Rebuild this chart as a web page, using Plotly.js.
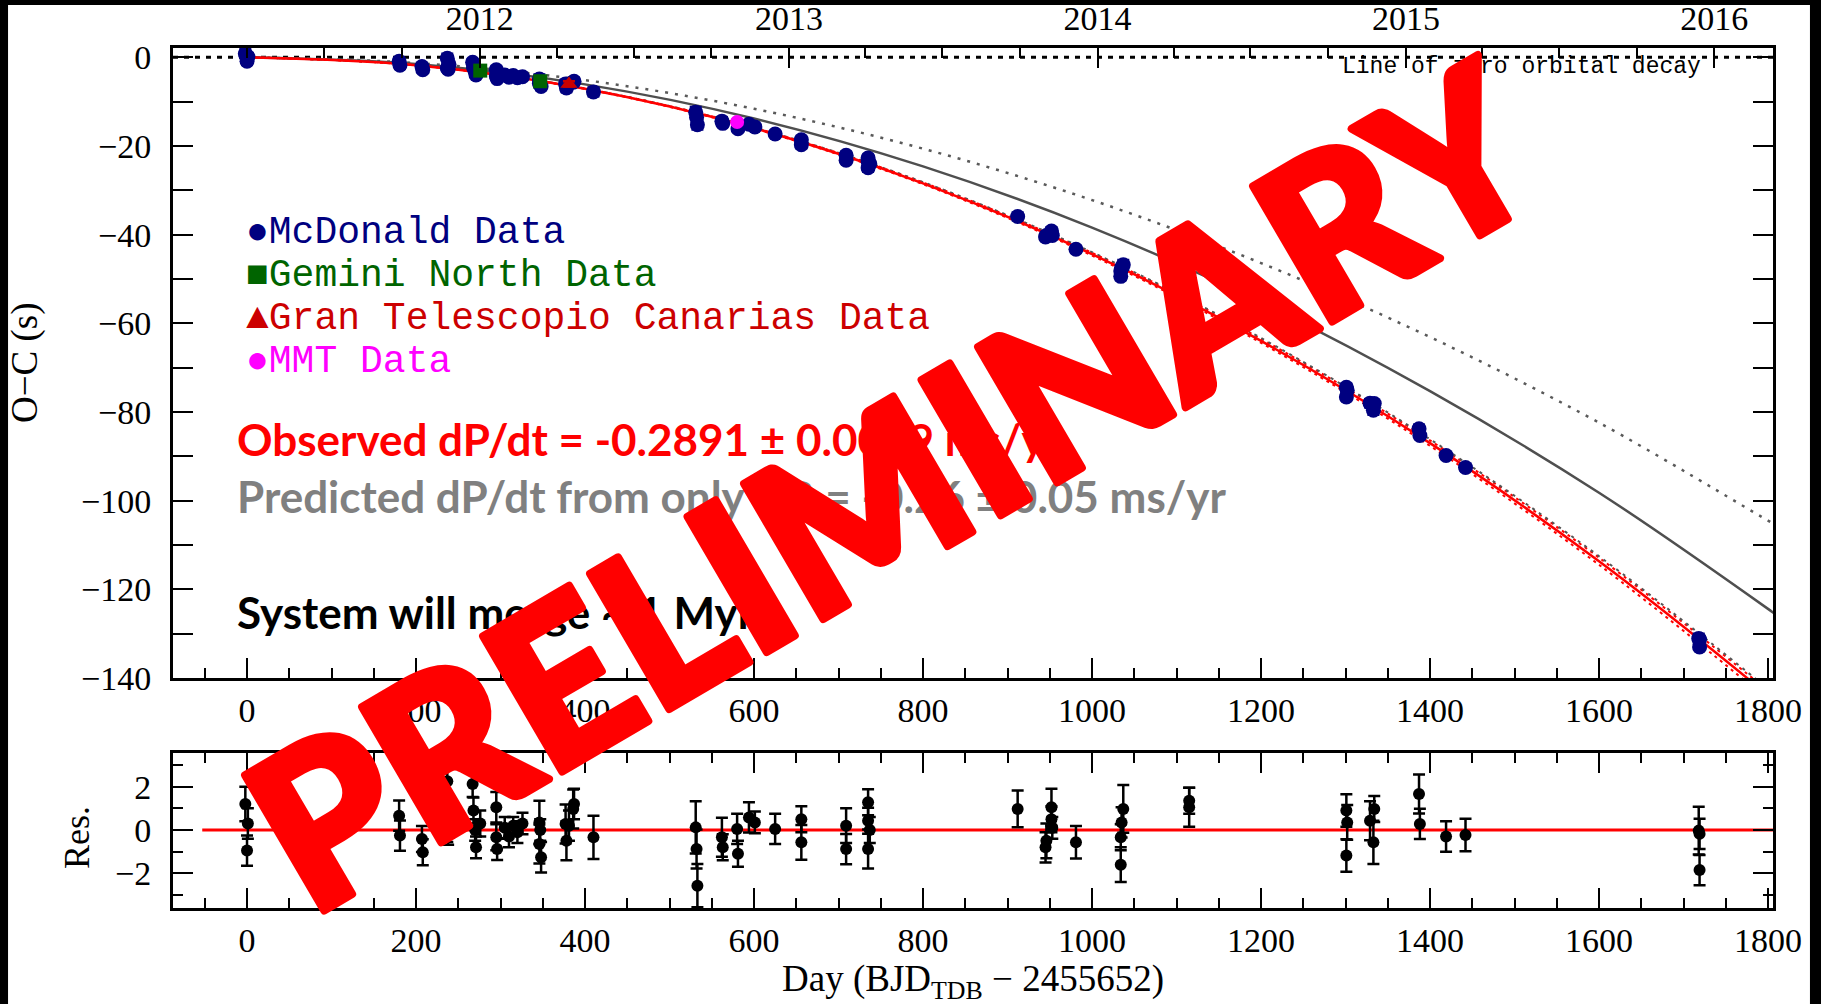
<!DOCTYPE html>
<html>
<head>
<meta charset="utf-8">
<script src="https://cdn.plot.ly/plotly-3.0.1.min.js"></script>
<style>
  html, body { margin: 0; padding: 0; background: #ffffff; }
  #chart { width: 1821px; height: 1004px; }
  /* heavy rounded stamp lettering */
  #chart g.annotation[data-index="11"] text.annotation-text {
    stroke: #ff0000; stroke-width: 8px; stroke-linejoin: round; paint-order: stroke;
  }
</style>
</head>
<body>
<div id="chart"></div>
<script>
// O−C timing of the eclipses, days since BJD_TDB 2455652
const mcdDay = [-2, 1, 0, 180, 181, 207, 208, 237, 239, 237, 238, 267, 268, 270, 271,
  295, 295, 296, 305, 310, 315, 320, 326, 346, 346, 348, 377, 378, 386, 387, 410,
  531, 532, 533, 562, 563, 581, 594, 601, 625, 656, 656, 709, 709, 735, 735, 735, 737,
  912, 945, 946, 952, 952, 953, 981, 1034, 1034, 1035, 1037, 1115, 1115,
  1301, 1302, 1301, 1329, 1334, 1333, 1387, 1388, 1419, 1442, 1718, 1719, 1719];
const mcdOC = [0.8, 0.1, -0.9, -0.9, -1.8, -2.1, -2.8, -0.2, -1.6, -2.4, -2.7, -1.1, -2.3, -3.2, -4.0,
  -2.8, -4.2, -4.8, -4.0, -4.5, -4.1, -4.6, -4.4, -4.9, -5.9, -6.6, -6.0, -6.9, -5.6, -5.4, -7.8,
  -12.4, -13.5, -15.2, -14.4, -14.9, -16.1, -15.1, -15.7, -17.3, -18.6, -19.7, -22.1, -23.2, -22.7, -23.5, -24.9, -24.0,
  -35.9, -40.5, -40.2, -39.2, -39.8, -40.2, -43.3, -49.4, -48.2, -47.5, -46.8, -54.2, -54.5,
  -74.4, -75.1, -76.6, -78.0, -78.1, -79.6, -83.8, -85.3, -89.8, -92.5, -131.1, -131.3, -133.0];
const mcdErr = [1.0, 0.8, 0.8, 0.8, 0.8, 0.7, 0.7, 1.0, 0.8, 0.6, 0.6, 0.6, 0.6, 0.6, 0.6,
  0.7, 0.6, 0.6, 0.5, 0.5, 0.5, 0.5, 0.5, 1.0, 0.9, 0.8, 0.9, 0.9, 0.9, 0.8, 1.0,
  1.2, 1.0, 1.1, 0.9, 0.7, 0.7, 0.7, 0.6, 0.7, 0.7, 0.8, 0.8, 0.7, 0.7, 0.6, 0.9, 0.6,
  0.85, 0.7, 0.8, 0.85, 0.6, 0.5, 0.75, 0.8, 0.6, 0.7, 1.1, 0.6, 0.9,
  0.75, 0.8, 0.75, 0.9, 0.6, 1.0, 0.9, 0.7, 0.7, 0.75, 1.1, 0.7, 0.7];

const gemDay = [276, 347];
const gemOC = [-3.0, -5.4];
const gemErr = [0.8, 0.7];

const gtcDay = [381];
const gtcOC = [-6.0];
const gtcErr = [0.6];

const mmtDay = [580];
const mmtOC = [-14.6];
const mmtErr = [0.6];

// residuals from the best-fit decay curve (s)
const resDay = [-2, 1, 0, 180, 181, 207, 208, 237, 239, 237, 238, 267, 268, 270, 271, 276,
  295, 295, 296, 305, 310, 315, 320, 326, 346, 346, 348, 347, 377, 378, 386, 387, 381, 410,
  531, 532, 533, 562, 563, 580, 581, 594, 601, 625, 656, 656, 709, 709, 735, 735, 735, 737,
  912, 945, 946, 952, 952, 953, 981, 1034, 1034, 1035, 1037, 1115, 1115,
  1301, 1302, 1301, 1329, 1334, 1333, 1387, 1388, 1419, 1442, 1718, 1719, 1719];
const resVal = [1.2, 0.3, -0.95, 0.66, -0.26, -0.42, -1.03, 2.25, 0.82, 0.05, -0.18, 2.12, 0.9, 0.0, -0.8, 0.3,
  1.05, -0.34, -0.88, 0.1, -0.3, 0.2, -0.1, 0.3, 0.35, -0.65, -1.26, 0.0, 0.28, -0.5, 0.97, 1.2, 0.2, -0.34,
  0.12, -0.88, -2.57, -0.34, -0.8, 0.05, -1.1, 0.58, 0.35, 0.05, 0.5, -0.57, 0.2, -0.88, 1.28, 0.43, -0.88, 0.0,
  0.97, -0.8, -0.5, 1.05, 0.5, 0.1, -0.57, -1.6, -0.34, 0.35, 0.97, 1.35, 1.05,
  0.9, 0.35, -1.18, 0.43, 0.97, -0.57, 1.66, 0.28, -0.3, -0.23, -0.03, -0.18, -1.85];
const resErr = [0.8, 0.7, 0.7, 0.7, 0.7, 0.6, 0.6, 1.0, 0.7, 0.6, 0.5, 0.6, 0.6, 0.5, 0.5, 0.6,
  0.7, 0.6, 0.5, 0.5, 0.5, 0.4, 0.5, 0.5, 1.0, 0.9, 0.7, 0.5, 0.9, 0.9, 0.9, 0.7, 0.7, 1.0,
  1.2, 0.9, 1.0, 0.9, 0.6, 0.7, 0.6, 0.7, 0.5, 0.7, 0.6, 0.8, 0.8, 0.7, 0.6, 0.6, 0.9, 0.6,
  0.85, 0.7, 0.8, 0.85, 0.6, 0.5, 0.75, 0.8, 0.6, 0.7, 1.1, 0.6, 0.9,
  0.75, 0.8, 0.75, 0.9, 0.6, 1.0, 0.9, 0.7, 0.7, 0.75, 1.1, 0.7, 0.7];

// model curves sampled along the day axis
const curveDay  = [0, 200, 400, 600, 800, 1000, 1200, 1400, 1600, 1800, 1820];
const fitOC     = [0, -1.78, -7.10, -15.98, -28.42, -44.40, -63.94, -87.02, -113.66, -143.86, -147.1];
const fitUpper  = [0, -1.77, -7.05, -15.87, -28.22, -44.09, -63.49, -86.41, -112.86, -142.85, -146.0];
const fitLower  = [0, -1.79, -7.15, -16.09, -28.62, -44.71, -64.39, -87.63, -114.46, -144.87, -148.1];
const fitAlt    = [0, -1.76, -7.03, -15.82, -28.14, -43.96, -63.30, -86.15, -112.52, -142.42, -145.6];
const grOC      = [0, -1.5, -6.1, -13.8, -24.6, -38.4, -55.3, -75.3, -98.2, -124.4, -127.2];
const grAltOC   = [0, -1.29, -5.15, -11.6, -20.6, -32.2, -46.4, -63.1, -82.4, -104.5, -106.7];

// calendar axis along the top
const yearDays = [275.5, 641.5, 1006.5, 1371.5, 1736.5];
const yearLabels = ['2012', '2013', '2014', '2015', '2016'];
const quarterDays = [0.5, 91.5, 183.5, 366.5, 457.5, 549.5, 731.5, 822.5, 914.5,
  1096.5, 1187.5, 1279.5, 1461.5, 1552.5, 1644.5];

const dayRange = [-87.6, 1805.9];
const ocRange = [-140, 2.1];
const resRange = [-3.6, 3.55];

const serif = 'Liberation Serif, DejaVu Serif, serif';
const mono = 'Liberation Mono, DejaVu Sans Mono, monospace';
const sans = 'Lato, Open Sans, sans-serif';

function pts(x, y, err, color, symbol, size, name, xa, ya) {
  return {
    x: x, y: y, type: 'scatter', mode: 'markers', name: name,
    xaxis: xa, yaxis: ya,
    marker: { color: color, symbol: symbol, size: size, line: { width: 0 } },
    error_y: { type: 'data', array: err, visible: true, color: color, thickness: 2.5, width: 6 },
    hoverinfo: 'skip'
  };
}
function curve(y, color, width, dash) {
  return {
    x: curveDay, y: y, type: 'scatter', mode: 'lines', xaxis: 'x', yaxis: 'y',
    line: { color: color, width: width, dash: dash, shape: 'spline', smoothing: 1 },
    hoverinfo: 'skip'
  };
}

const traces = [
  curve(grAltOC, '#5a5a5a', 2.5, '3px,7px'),
  curve(grOC, '#4f4f4f', 2.5, 'solid'),
  curve(fitUpper, '#ff0000', 2, '3px,4px'),
  curve(fitLower, '#ff0000', 2, '3px,4px'),
  curve(fitAlt, '#555555', 2, '3px,5px'),
  curve(fitOC, '#ff0000', 2.5, 'solid'),
  pts(mcdDay, mcdOC, mcdErr, '#000080', 'circle', 15, 'McDonald', 'x', 'y'),
  pts(gemDay, gemOC, gemErr, '#006400', 'square', 14, 'Gemini North', 'x', 'y'),
  pts(gtcDay, gtcOC, gtcErr, '#cc0000', 'triangle-up', 15, 'GTC', 'x', 'y'),
  pts(mmtDay, mmtOC, mmtErr, '#ff00ff', 'circle', 14, 'MMT', 'x', 'y'),
  pts(resDay, resVal, resErr, '#000000', 'circle', 12, 'Residuals', 'x2', 'y2'),
  { x: [-87.6], y: [0], xaxis: 'x3', yaxis: 'y', type: 'scatter', mode: 'markers',
    marker: { opacity: 0 }, hoverinfo: 'skip' }
];

const tickFont = { family: serif, size: 34, color: '#000000' };
const axisCommon = {
  showline: true, linecolor: '#000000', linewidth: 3,
  showgrid: false, zeroline: false, ticks: 'inside', tickcolor: '#000000',
  tickwidth: 2, ticklen: 20, tickfont: tickFont, ticklabelstandoff: 12, fixedrange: true
};

const layout = {
  width: 1821, height: 1004,
  margin: { l: 173, r: 48, t: 48, b: 96, pad: 0 },
  paper_bgcolor: '#ffffff', plot_bgcolor: '#ffffff',
  showlegend: false,
  xaxis: Object.assign({}, axisCommon, {
    domain: [0, 1], anchor: 'y', range: dayRange, mirror: true,
    tick0: 0, dtick: 200, ticklabelstandoff: 0,
    minor: { dtick: 50, tick0: 0, ticklen: 10, tickwidth: 2, ticks: 'inside', tickcolor: '#000000' }
  }),
  yaxis: Object.assign({}, axisCommon, {
    domain: [0.2674, 1], anchor: 'x', range: ocRange, mirror: 'allticks',
    tick0: 0, dtick: 20,
    minor: { dtick: 10, tick0: 0, ticklen: 10, tickwidth: 2, ticks: 'inside', tickcolor: '#000000' }
  }),
  xaxis3: Object.assign({}, axisCommon, {
    overlaying: 'x', side: 'top', anchor: 'y', range: dayRange, showline: false,
    tickmode: 'array', tickvals: yearDays, ticktext: yearLabels, ticklabelstandoff: 10,
    minor: { tickmode: 'array', tickvals: quarterDays, ticklen: 10, tickwidth: 2, ticks: 'inside', tickcolor: '#000000' }
  }),
  xaxis2: Object.assign({}, axisCommon, {
    domain: [0, 1], anchor: 'y2', range: dayRange, mirror: 'allticks',
    tick0: 0, dtick: 200, ticklabelstandoff: 0,
    minor: { dtick: 50, tick0: 0, ticklen: 10, tickwidth: 2, ticks: 'inside', tickcolor: '#000000' }
  }),
  yaxis2: Object.assign({}, axisCommon, {
    domain: [0, 0.1802], anchor: 'x2', range: resRange, mirror: 'allticks',
    tick0: 0, dtick: 2,
    minor: { dtick: 1, tick0: 0, ticklen: 10, tickwidth: 2, ticks: 'inside', tickcolor: '#000000' }
  }),
  shapes: [
    // line of zero orbital decay
    { type: 'line', xref: 'paper', yref: 'y', x0: 0, x1: 1, y0: 0, y1: 0,
      line: { color: '#000000', width: 3, dash: '5px,6px' }, layer: 'below' },
    // zero residual line
    { type: 'line', xref: 'x2', yref: 'y2', x0: -53, x1: dayRange[1], y0: 0, y1: 0,
      line: { color: '#ff0000', width: 3 }, layer: 'below' },
    // dark edges of the page
    { type: 'rect', xref: 'paper', yref: 'paper', x0: -0.2, x1: 1.2, y0: 1.05, y1: 1.2,
      fillcolor: '#000000', line: { width: 0 }, layer: 'above' },
    { type: 'rect', xref: 'paper', yref: 'paper', x0: -0.2, x1: -0.1031, y0: -0.2, y1: 1.2,
      fillcolor: '#000000', line: { width: 0 }, layer: 'above' },
    { type: 'rect', xref: 'paper', yref: 'paper', x0: 1.0231, x1: 1.2, y0: -0.2, y1: 1.2,
      fillcolor: '#000000', line: { width: 0 }, layer: 'above' }
  ],
  annotations: [
    { text: 'Line of zero orbital decay', xref: 'x', yref: 'y', x: 1508, y: -2.2,
      xanchor: 'center', yanchor: 'middle', showarrow: false,
      font: { family: mono, size: 23, color: '#000000' } },
    { text: '\u25CFMcDonald Data', xref: 'x', yref: 'y', x: -3.5, y: -39.4,
      xanchor: 'left', yanchor: 'middle', showarrow: false,
      font: { family: mono, size: 38, color: '#000080' } },
    { text: '\u25A0Gemini North Data', xref: 'x', yref: 'y', x: -3.5, y: -49.1,
      xanchor: 'left', yanchor: 'middle', showarrow: false,
      font: { family: mono, size: 38, color: '#006400' } },
    { text: '\u25B2Gran Telescopio Canarias Data', xref: 'x', yref: 'y', x: -3.5, y: -58.8,
      xanchor: 'left', yanchor: 'middle', showarrow: false,
      font: { family: mono, size: 38, color: '#cc0000' } },
    { text: '\u25CFMMT Data', xref: 'x', yref: 'y', x: -3.5, y: -68.7,
      xanchor: 'left', yanchor: 'middle', showarrow: false,
      font: { family: mono, size: 38, color: '#ff00ff' } },
    { text: 'Observed dP/dt = -0.2891 \u00B1 0.0029 ms/yr', xref: 'x', yref: 'y', x: -14, y: -86.1,
      xanchor: 'left', yanchor: 'middle', showarrow: false,
      font: { family: sans, size: 44, color: '#ff0000', weight: 'bold' } },
    { text: 'Predicted dP/dt from only GR = -0.26 \u00B1 0.05 ms/yr', xref: 'x', yref: 'y', x: -14, y: -99.0,
      xanchor: 'left', yanchor: 'middle', showarrow: false,
      font: { family: sans, size: 44, color: '#808080', weight: 'bold' } },
    { text: 'System will merge ~ 1 Myr', xref: 'x', yref: 'y', x: -14, y: -125.0,
      xanchor: 'left', yanchor: 'middle', showarrow: false,
      font: { family: sans, size: 44, color: '#000000', weight: 'bold' } },
    // axis titles
    { text: 'O\u2212C (s)', xref: 'paper', yref: 'paper', x: -0.0925, y: 0.6337,
      xanchor: 'center', yanchor: 'middle', textangle: -90, showarrow: false,
      font: { family: serif, size: 37, color: '#000000' } },
    { text: 'Res.', xref: 'paper', yref: 'paper', x: -0.06, y: 0.0814,
      xanchor: 'center', yanchor: 'middle', textangle: -90, showarrow: false,
      font: { family: serif, size: 36, color: '#000000' } },
    { text: 'Day (BJD<sub>TDB</sub> \u2212 2455652)', xref: 'paper', yref: 'paper', x: 0.5, y: -0.0855,
      xanchor: 'center', yanchor: 'middle', showarrow: false,
      font: { family: serif, size: 37, color: '#000000' } },
    // stamp across the figure
    { text: 'PRELIMINARY', xref: 'paper', yref: 'paper', x: 0.4488, y: 0.4953,
      xanchor: 'center', yanchor: 'middle', textangle: -30.3, showarrow: false,
      font: { family: sans, size: 216, color: '#ff0000', weight: 900 } }
  ]
};

Plotly.newPlot('chart', traces, layout, { displayModeBar: false, staticPlot: true });
</script>
</body>
</html>
